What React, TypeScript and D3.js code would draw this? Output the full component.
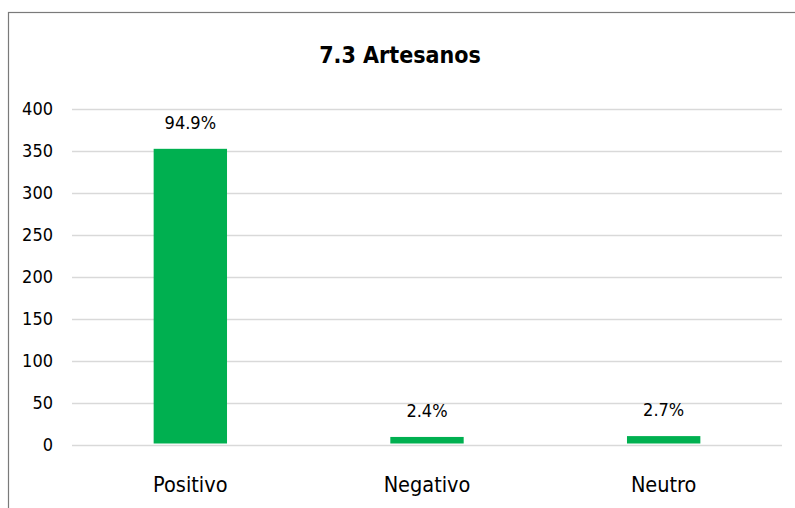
import { useEffect, useRef } from 'react';
import * as d3 from 'd3';

const categories = ['Positivo', 'Negativo', 'Neutro'];
const counts = [352, 9, 10];
const percentLabels = ['94.9%', '2.4%', '2.7%'];
const yTicks = [0, 50, 100, 150, 200, 250, 300, 350, 400];
const title = '7.3 Artesanos';

const W = 795;
const H = 508;
const FONT = '"Liberation Sans Narrow", "DejaVu Sans Condensed", "Noto Sans", sans-serif';

const App = () => {
  const svgRef = useRef<SVGSVGElement>(null);

  useEffect(() => {
    const svg = d3.select(svgRef.current);
    svg.selectAll('*').remove();

    const left = 72;
    const right = 782;
    const top = 108.5;
    const bottom = 444.5;

    const x = d3.scaleBand().domain(categories).range([left, right]).paddingInner(0.69).paddingOuter(0.345);
    const y = d3.scaleLinear().domain([0, 400]).range([bottom, top]);

    // chart frame (runs off the right and bottom edges)
    svg
      .append('rect')
      .attr('x', 8.5)
      .attr('y', 12.5)
      .attr('width', 900)
      .attr('height', 700)
      .attr('fill', '#fff')
      .attr('stroke', '#7a7a7a')
      .attr('stroke-width', 1.2);

    svg
      .append('text')
      .attr('x', 400)
      .attr('y', 63)
      .attr('text-anchor', 'middle')
      .attr('font-family', FONT)
      .attr('font-weight', 'bold')
      .attr('font-size', 23)
      .attr('fill', '#000')
      .text(title);

    svg
      .append('g')
      .selectAll('line')
      .data(yTicks)
      .join('line')
      .attr('x1', left)
      .attr('x2', right)
      .attr('y1', (d) => Math.round(y(d)) + 0.5)
      .attr('y2', (d) => Math.round(y(d)) + 0.5)
      .attr('stroke', '#d9d9d9')
      .attr('stroke-width', 1.5);

    svg
      .append('g')
      .selectAll('text')
      .data(yTicks)
      .join('text')
      .attr('x', 53)
      .attr('y', (d) => y(d))
      .attr('dy', '0.35em')
      .attr('text-anchor', 'end')
      .attr('font-family', FONT)
      .attr('font-size', 18)
      .attr('fill', '#000')
      .text((d) => d);

    svg
      .append('g')
      .selectAll('rect')
      .data(counts)
      .join('rect')
      .attr('x', (_, i) => x(categories[i])!)
      .attr('y', (d) => y(d))
      .attr('width', x.bandwidth())
      .attr('height', (d) => y(0) - y(d) - 1)
      .attr('fill', '#00b050');

    svg
      .append('g')
      .selectAll('text')
      .data(counts)
      .join('text')
      .attr('x', (_, i) => x(categories[i])! + x.bandwidth() / 2)
      .attr('y', (d) => y(d) - 20)
      .attr('text-anchor', 'middle')
      .attr('font-family', FONT)
      .attr('font-size', 18)
      .attr('fill', '#000')
      .text((_, i) => percentLabels[i]);

    svg
      .append('g')
      .selectAll('text')
      .data(categories)
      .join('text')
      .attr('x', (d) => x(d)! + x.bandwidth() / 2)
      .attr('y', 492)
      .attr('text-anchor', 'middle')
      .attr('font-family', FONT)
      .attr('font-size', 21.5)
      .attr('fill', '#000')
      .text((d) => d);
  }, []);

  return (
    <svg
      ref={svgRef}
      width={W}
      height={H}
      style={{ position: 'absolute', left: 0, top: 0, background: '#fff' }}
    />
  );
};

export default App;
